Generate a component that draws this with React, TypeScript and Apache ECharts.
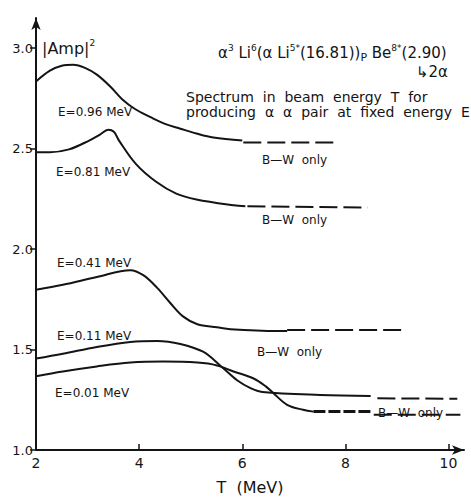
import React, { useEffect, useRef } from "react";
import * as echarts from "echarts";

// ---- data ----
const xTicks = [2, 4, 6, 8, 10];
const yTicks = [1.0, 1.5, 2.0, 2.5, 3.0];

const e096T = [2.0, 2.27, 2.5, 2.72, 2.95, 3.18, 3.44, 3.67, 3.92, 4.21, 4.5, 4.8, 5.11, 5.44, 6.0];
const e096A = [2.834, 2.888, 2.912, 2.917, 2.902, 2.868, 2.809, 2.746, 2.697, 2.658, 2.623, 2.599, 2.575, 2.555, 2.54];

const e081T = [2.0, 2.27, 2.64, 3.03, 3.24, 3.4, 3.51, 3.61, 3.94, 4.33, 4.72, 5.11, 5.83, 6.06];
const e081A = [2.482, 2.482, 2.496, 2.54, 2.57, 2.594, 2.584, 2.54, 2.423, 2.335, 2.276, 2.247, 2.218, 2.213];

const e041T = [2.0, 2.52, 3.18, 3.83, 4.08, 4.35, 4.6, 4.85, 5.13, 5.51, 5.77, 6.68, 6.87];
const e041A = [1.797, 1.822, 1.861, 1.895, 1.87, 1.807, 1.733, 1.665, 1.626, 1.611, 1.601, 1.592, 1.592];

const e011T = [2.0, 2.52, 3.18, 3.83, 4.35, 4.8, 5.24, 5.57, 5.9, 6.16, 6.39, 7.51, 8.49];
const e011A = [1.455, 1.479, 1.513, 1.538, 1.543, 1.528, 1.489, 1.421, 1.347, 1.308, 1.289, 1.274, 1.269];

const e001T = [2.0, 2.52, 3.18, 3.83, 4.47, 5.13, 5.51, 5.83, 6.21, 6.45, 6.6, 6.87, 7.18, 7.38];
const e001A = [1.367, 1.391, 1.416, 1.435, 1.44, 1.435, 1.421, 1.391, 1.357, 1.318, 1.284, 1.225, 1.2, 1.191];

// "B-W only" dashed continuations: [T start, T end], [A start, A end]
const bw096T = [6.02, 7.86];
const bw096A = [2.53, 2.53];
const bw081T = [6.1, 8.43];
const bw081A = [2.213, 2.207];
const bw041T = [6.87, 9.11];
const bw041A = [1.597, 1.597];
const bw011T = [8.62, 10.17];
const bw011A = [1.257, 1.255];
const bw001hT = [7.38, 8.49];
const bw001hA = [1.191, 1.191];
const bw001T = [8.55, 10.23];
const bw001A = [1.176, 1.176];

const curveLabels = ["E=0.96 MeV", "E=0.81 MeV", "E=0.41 MeV", "E=0.11 MeV", "E=0.01 MeV"];
const bwLabel = "B\u2014W  only";

const zip = (t: number[], a: number[]) => t.map((v, i) => [v, a[i]]);

const INK = "#141414";
const FONT = "DejaVu Sans";

export default function App() {
  const ref = useRef<HTMLDivElement>(null);
  useEffect(() => {
    if (!ref.current) return;
    const chart = echarts.init(ref.current, undefined, { renderer: "svg" });

    const solid = (name: string, t: number[], a: number[]) => ({
      name,
      type: "line",
      data: zip(t, a),
      smooth: 0.35,
      showSymbol: false,
      symbol: "none",
      lineStyle: { color: INK, width: 2 },
      silent: true,
    });
    const dashed = (name: string, t: number[], a: number[], width = 2, dash: number[] = [18, 6]) => ({
      name,
      type: "line",
      data: zip(t, a),
      showSymbol: false,
      symbol: "none",
      lineStyle: { color: INK, width, type: dash },
      silent: true,
    });

    const txt = (x: number, y: number, text: string, size = 12, extra: any = {}) => ({
      type: "text",
      x,
      y,
      silent: true,
      style: {
        text,
        fill: INK,
        font: `${size}px "${FONT}"`,
        fontFamily: FONT,
        fontSize: size,
        textAlign: "left",
        textVerticalAlign: "middle",
        align: "left",
        verticalAlign: "middle",
        ...extra,
      },
    });

    const rich = {
      n: { fontSize: 15, fontFamily: FONT, color: INK, lineHeight: 20 },
      s: { fontSize: 9, fontFamily: FONT, color: INK, verticalAlign: "top", lineHeight: 20, padding: [0, 0, 8, 0] },
      b: { fontSize: 11, fontFamily: FONT, color: INK, verticalAlign: "bottom", lineHeight: 20, padding: [6, 0, 0, 0] },
    };

    chart.setOption({
      animation: false,
      backgroundColor: "#ffffff",
      grid: { left: 36, right: 7, top: 18, bottom: 42, containLabel: false },
      xAxis: {
        type: "value",
        min: 2,
        max: 10.3,
        axisLine: { show: true, symbol: ["none", "arrow"], symbolSize: [7, 12], lineStyle: { color: INK, width: 2 } },
        axisTick: { show: true, inside: true, length: 6, customValues: xTicks, lineStyle: { color: INK, width: 1.5 } },
        axisLabel: {
          show: true,
          customValues: xTicks,
          formatter: (v: number) => String(v),
          color: INK,
          fontFamily: FONT,
          fontSize: 14,
          margin: 6,
        },
        splitLine: { show: false },
        name: "T  (MeV)",
        nameLocation: "middle",
        nameGap: 29,
        nameTextStyle: { color: INK, fontFamily: FONT, fontSize: 16 },
      },
      yAxis: {
        type: "value",
        min: 1,
        max: 3.15,
        axisLine: { show: true, symbol: ["none", "arrow"], symbolSize: [7, 12], lineStyle: { color: INK, width: 2 } },
        axisTick: { show: true, inside: false, length: 6, customValues: yTicks, lineStyle: { color: INK, width: 1.5 } },
        axisLabel: {
          show: true,
          customValues: yTicks,
          formatter: (v: number) => v.toFixed(1),
          color: INK,
          fontFamily: FONT,
          fontSize: 13,
          margin: 3,
        },
        splitLine: { show: false },
      },
      series: [
        solid(curveLabels[0], e096T, e096A),
        solid(curveLabels[1], e081T, e081A),
        solid(curveLabels[2], e041T, e041A),
        solid(curveLabels[3], e011T, e011A),
        solid(curveLabels[4], e001T, e001A),
        dashed("bw096", bw096T, bw096A),
        dashed("bw081", bw081T, bw081A),
        dashed("bw041", bw041T, bw041A),
        dashed("bw011", bw011T, bw011A),
        dashed("bw001h", bw001hT, bw001hA, 3, [12, 3]),
        dashed("bw001", bw001T, bw001A),
      ],
      graphic: [
        {
          type: "text",
          x: 42,
          y: 48,
          silent: true,
          style: {
            text: "{n||Amp|}{s|2}",
            rich: { ...rich, n: { ...rich.n, fontSize: 16 } },
            fill: INK,
            textVerticalAlign: "middle",
            verticalAlign: "middle",
          },
        },
        {
          type: "text",
          x: 218,
          y: 53,
          silent: true,
          style: {
            text: "{n|\u03b1}{s|3}{n| Li}{s|6}{n|(\u03b1 Li}{s|5*}{n|(16.81))}{b|P}{n| Be}{s|8*}{n|(2.90)}",
            rich,
            fill: INK,
            textVerticalAlign: "middle",
            verticalAlign: "middle",
          },
        },
        txt(416, 72, "\u21b32\u03b1", 15),
        txt(186, 97, "Spectrum  in  beam  energy  T  for", 14),
        txt(186, 112, "producing  \u03b1  \u03b1  pair  at  fixed  energy  E", 14),
        txt(58, 112, curveLabels[0], 12),
        txt(56, 172, curveLabels[1], 12),
        txt(57, 263, curveLabels[2], 12),
        txt(57, 336, curveLabels[3], 12),
        txt(55, 393, curveLabels[4], 12),
        txt(262, 160, bwLabel, 12),
        txt(262, 220, bwLabel, 12),
        txt(257, 352, bwLabel, 12),
        txt(378, 413, bwLabel, 12),
      ],
    });
    return () => chart.dispose();
  }, []);
  return (
    <div
      ref={ref}
      style={{ position: "fixed", left: 0, top: 0, width: 471, height: 500, background: "#fff" }}
    />
  );
}
